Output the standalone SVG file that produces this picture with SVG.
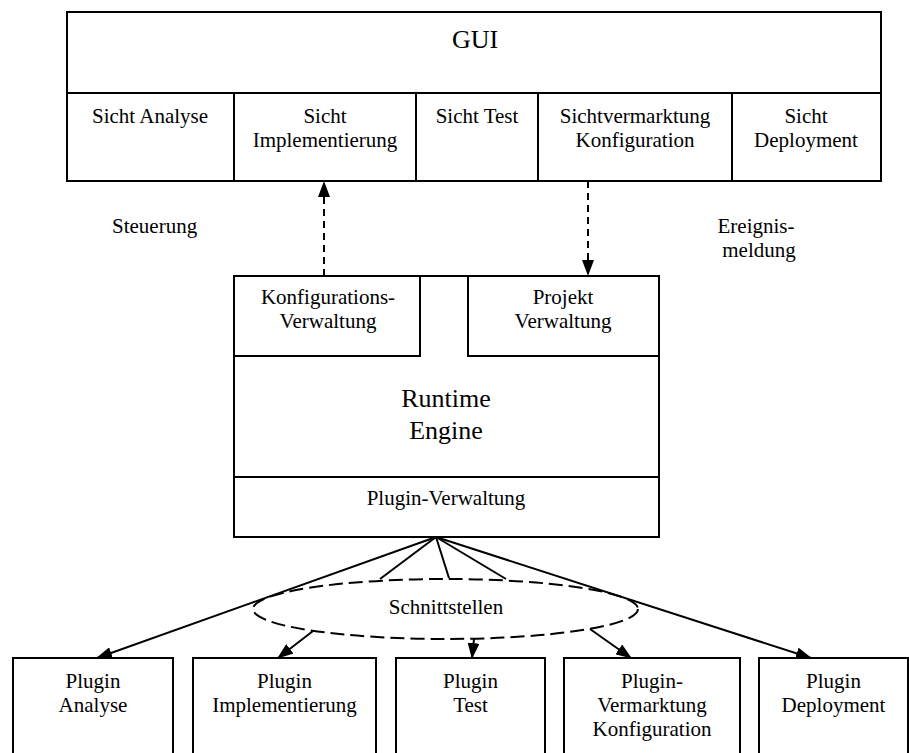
<svg xmlns="http://www.w3.org/2000/svg" width="909" height="753" viewBox="0 0 909 753">
  <style>
    .box { fill: #fff; stroke: #000; stroke-width: 2; }
    .line { fill: none; stroke: #000; stroke-width: 2; }
    .dash { fill: none; stroke: #000; stroke-width: 2; stroke-dasharray: 7 5; }
    .oval { fill: none; stroke: #000; stroke-width: 2; stroke-dasharray: 14 6; }
    text { font-family: "Liberation Serif", "Times New Roman", serif; font-size: 21px; fill: #000; text-anchor: middle; }
    .big { font-size: 26px; }
    .start { text-anchor: start; }
  </style>
  <defs>
    <marker id="head" markerWidth="16" markerHeight="12" refX="15" refY="6" orient="auto" markerUnits="userSpaceOnUse">
      <path d="M0,0 L16,6 L0,12 Z" fill="#000"/>
    </marker>
  </defs>
  <rect width="909" height="753" fill="#fff"/>

  <!-- GUI with its views -->
  <g id="gui">
    <rect class="box" x="67" y="12" width="814" height="169"/>
    <line class="line" x1="67" y1="93" x2="881" y2="93"/>
    <line class="line" x1="234" y1="93" x2="234" y2="181"/>
    <line class="line" x1="416" y1="93" x2="416" y2="181"/>
    <line class="line" x1="538" y1="93" x2="538" y2="181"/>
    <line class="line" x1="732" y1="93" x2="732" y2="181"/>
    <text class="big" x="475" y="48">GUI</text>
  </g>
  <g id="sicht-analyse"><text x="150" y="123">Sicht Analyse</text></g>
  <g id="sicht-implementierung"><text x="325" y="123">Sicht</text><text x="325" y="147">Implementierung</text></g>
  <g id="sicht-test"><text x="477" y="123">Sicht Test</text></g>
  <g id="sicht-konfiguration"><text x="635" y="123">Sichtvermarktung</text><text x="635" y="147">Konfiguration</text></g>
  <g id="sicht-deployment"><text x="806" y="123">Sicht</text><text x="806" y="147">Deployment</text></g>

  <!-- Runtime engine -->
  <g id="runtime-engine">
    <rect class="box" x="234" y="276" width="425" height="261"/>
    <line class="line" x1="234" y1="477" x2="659" y2="477"/>
    <text class="big" x="446" y="407">Runtime</text>
    <text class="big" x="446" y="439">Engine</text>
    <text x="446" y="505">Plugin-Verwaltung</text>
  </g>
  <g id="konfigurations-verwaltung">
    <rect class="box" x="234" y="276" width="186" height="80"/>
    <text x="328" y="304">Konfigurations-</text>
    <text x="328" y="328">Verwaltung</text>
  </g>
  <g id="projekt-verwaltung">
    <rect class="box" x="468" y="276" width="191" height="80"/>
    <text x="563" y="304">Projekt</text>
    <text x="563" y="328">Verwaltung</text>
  </g>

  <!-- Interfaces -->
  <g id="schnittstellen">
    <ellipse class="oval" cx="445.5" cy="609" rx="192.5" ry="30"/>
    <text x="446" y="614">Schnittstellen</text>
  </g>

  <!-- Plugins -->
  <g id="plugin-analyse">
    <rect class="box" x="13" y="658" width="160" height="110"/>
    <text x="93" y="688">Plugin</text><text x="93" y="712">Analyse</text>
  </g>
  <g id="plugin-implementierung">
    <rect class="box" x="193" y="658" width="183" height="110"/>
    <text x="284.5" y="688">Plugin</text><text x="284.5" y="712">Implementierung</text>
  </g>
  <g id="plugin-test">
    <rect class="box" x="396" y="658" width="149" height="110"/>
    <text x="470.5" y="688">Plugin</text><text x="470.5" y="712">Test</text>
  </g>
  <g id="plugin-konfiguration">
    <rect class="box" x="564" y="658" width="176" height="110"/>
    <text x="652" y="688">Plugin-</text><text x="652" y="712">Vermarktung</text><text x="652" y="736">Konfiguration</text>
  </g>
  <g id="plugin-deployment">
    <rect class="box" x="759" y="658" width="149" height="110"/>
    <text x="833.5" y="688">Plugin</text><text x="833.5" y="712">Deployment</text>
  </g>

  <!-- Free labels -->
  <g id="steuerung"><text class="start" x="112" y="233">Steuerung</text></g>
  <g id="ereignismeldung"><text x="756" y="233">Ereignis-</text><text x="759" y="257">meldung</text></g>

  <!-- Connectors -->
  <g id="connectors">
    <line class="dash" x1="324" y1="276" x2="324" y2="182" marker-end="url(#head)"/>
    <line class="dash" x1="588" y1="181" x2="588" y2="275" marker-end="url(#head)"/>
    <line class="line" x1="436" y1="537" x2="97" y2="658" marker-end="url(#head)"/>
    <line class="line" x1="436" y1="537" x2="811" y2="658" marker-end="url(#head)"/>
    <line class="line" x1="436" y1="537" x2="380" y2="579"/>
    <line class="line" x1="436" y1="537" x2="449" y2="578"/>
    <line class="line" x1="436" y1="537" x2="506" y2="579"/>
    <line class="line" x1="313" y1="631" x2="278" y2="658" marker-end="url(#head)"/>
    <line class="line" x1="474" y1="639" x2="472" y2="658" marker-end="url(#head)"/>
    <line class="line" x1="590" y1="629" x2="631" y2="658" marker-end="url(#head)"/>
  </g>
</svg>
